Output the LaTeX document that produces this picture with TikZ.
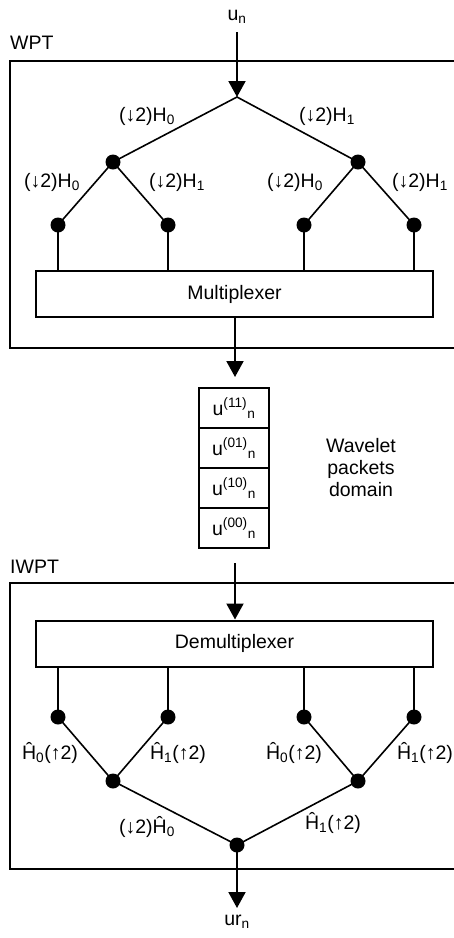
\documentclass[tikz,border=0pt]{standalone}
\usepackage{fontspec}
\setmainfont{Liberation Sans}
\usetikzlibrary{arrows.meta}
\tikzset{
  lbl/.style={font=\fontsize{19.5}{22}\selectfont, inner sep=0pt},
  dot/.style={circle, fill=black, inner sep=0pt, minimum size=15pt},
  tree/.style={line width=1.6pt},
  vline/.style={line width=2pt},
  frame/.style={line width=2pt},
  arr/.style={line width=2pt, -{Triangle[length=16pt,width=17pt]}},
  bigbox/.style={draw, line width=2pt, inner sep=0pt, minimum width=397pt, minimum height=46pt, font=\fontsize{19.5}{22}\selectfont},
  cell/.style={draw, line width=2pt, inner sep=0pt, minimum width=70pt, minimum height=40pt, font=\fontsize{19.5}{22}\selectfont},
}
\begin{document}
\begin{tikzpicture}[x=1pt,y=-1pt]
\useasboundingbox (0,0) rectangle (454,938);
% ---------- WPT ----------
\node[lbl, anchor=west] (wpt) at (10,43) {WPT};
\draw[frame] (456,61) -- (10,61) -- (10,348) -- (456,348);
\node[lbl] (un) at (237,17) {u\textsubscript{n}};
\coordinate (unstart) at (237,32);
\coordinate (top) at (237,97);
\draw[arr] (unstart) -- (top);
\node[dot] (a0) at (113,162) {};
\node[dot] (a1) at (358,162) {};
\node[dot] (b00) at (58,225) {};
\node[dot] (b01) at (168,225) {};
\node[dot] (b10) at (304,225) {};
\node[dot] (b11) at (414,225) {};
\draw[tree] (a0.center) -- (top) -- (a1.center);
\draw[tree] (b00.center) -- (a0.center) -- (b01.center);
\draw[tree] (b10.center) -- (a1.center) -- (b11.center);
\node[bigbox] (mux) at (234.5,294) {Multiplexer};
\foreach \n in {b00,b01,b10,b11}{\draw[vline] (\n.center) -- (\n |- mux.north);}
\node[lbl] (l1) at (147,116) {(↓2)H\textsubscript{0}};
\node[lbl] (l2) at (327,116) {(↓2)H\textsubscript{1}};
\node[lbl] (l3) at (52,182) {(↓2)H\textsubscript{0}};
\node[lbl] (l4) at (177,182) {(↓2)H\textsubscript{1}};
\node[lbl] (l5) at (295,182) {(↓2)H\textsubscript{0}};
\node[lbl] (l6) at (420,182) {(↓2)H\textsubscript{1}};
\coordinate (muxout) at (235,377);
\draw[arr] (mux.south -| muxout) -- (muxout);
% ---------- packets ----------
\node[cell] (s11) at (234,408) {u\textsuperscript{(11)}\textsubscript{n}};
\node[cell] (s01) at (234,448) {u\textsuperscript{(01)}\textsubscript{n}};
\node[cell] (s10) at (234,488) {u\textsuperscript{(10)}\textsubscript{n}};
\node[cell] (s00) at (234,528) {u\textsuperscript{(00)}\textsubscript{n}};
\node[lbl, align=center] (wpd) at (361,468) {Wavelet\\packets\\domain};
% ---------- IWPT ----------
\node[lbl, anchor=west] (iwpt) at (10,567) {IWPT};
\draw[frame] (456,583) -- (10,583) -- (10,869) -- (456,869);
\node[bigbox] (dmux) at (234.5,643.5) {Demultiplexer};
\coordinate (dmin) at (235,563);
\draw[arr] (dmin) -- (dmin |- dmux.north);
\node[dot] (c00) at (58,717) {};
\node[dot] (c01) at (168,717) {};
\node[dot] (c10) at (304,717) {};
\node[dot] (c11) at (414,717) {};
\foreach \n in {c00,c01,c10,c11}{\draw[vline] (\n |- dmux.south) -- (\n.center);}
\node[dot] (d0) at (113,781) {};
\node[dot] (d1) at (358,781) {};
\node[dot] (root) at (237,845) {};
\draw[tree] (c00.center) -- (d0.center) -- (c01.center);
\draw[tree] (c10.center) -- (d1.center) -- (c11.center);
\draw[tree] (d0.center) -- (root.center) -- (d1.center);
\node[lbl] (m1) at (50,753) {Ĥ\textsubscript{0}(↑2)};
\node[lbl] (m2) at (178,753) {Ĥ\textsubscript{1}(↑2)};
\node[lbl] (m3) at (294,753) {Ĥ\textsubscript{0}(↑2)};
\node[lbl] (m4) at (425,753) {Ĥ\textsubscript{1}(↑2)};
\node[lbl] (m5) at (147,827) {(↓2)Ĥ\textsubscript{0}};
\node[lbl] (m6) at (333,823) {Ĥ\textsubscript{1}(↑2)};
\coordinate (out) at (237,908);
\draw[arr] (root.center) -- (out);
\node[lbl] (urn) at (237,922) {ur\textsubscript{n}};
\end{tikzpicture}
\end{document}
